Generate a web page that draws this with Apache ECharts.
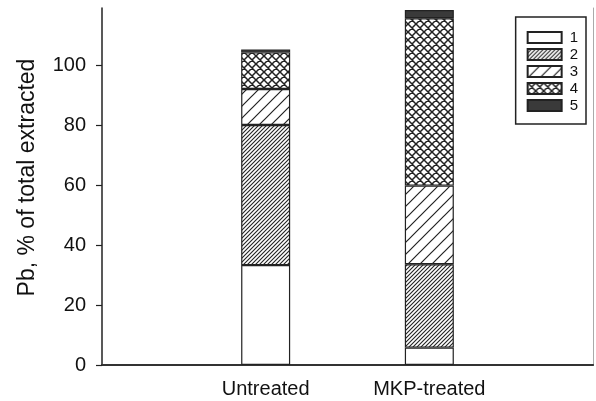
<!DOCTYPE html>
<html>
<head>
<meta charset="utf-8">
<script src="https://cdn.jsdelivr.net/npm/echarts@6/dist/echarts.min.js"></script>
<style>
html,body{margin:0;padding:0;background:#fff;}
#c{width:596px;height:401px;}
</style>
</head>
<body>
<div id="c"></div>
<script>
// ---- data ----
var categories = ['', 'Untreated', 'MKP-treated', ''];
var fractionNames = ['1', '2', '3', '4', '5'];
var fraction1 = [null, 33.3, 5.8, null];
var fraction2 = [null, 46.7, 27.8, null];
var fraction3 = [null, 12.0, 26.2, null];
var fraction4 = [null, 12.2, 55.8, null];
var fraction5 = [null, 1.0, 2.7, null];
var yTicks = [0, 20, 40, 60, 80, 100];
var yTitle = 'Pb, % of total extracted';

// ---- patterns ----
function hatch(size, width, color) {
  var c = document.createElement('canvas');
  c.width = size; c.height = size;
  var g = c.getContext('2d');
  g.fillStyle = '#fff'; g.fillRect(0, 0, size, size);
  g.strokeStyle = color; g.lineWidth = width;
  g.beginPath();
  g.moveTo(-size, 2 * size); g.lineTo(2 * size, -size);
  g.moveTo(-size, size); g.lineTo(size, -size);
  g.moveTo(0, 2 * size); g.lineTo(2 * size, 0);
  g.stroke();
  return c;
}
function cross(size, width, color) {
  var c = document.createElement('canvas');
  c.width = size; c.height = size;
  var g = c.getContext('2d');
  g.fillStyle = '#fff'; g.fillRect(0, 0, size, size);
  g.strokeStyle = color; g.lineWidth = width;
  g.beginPath();
  g.moveTo(-size, 2 * size); g.lineTo(2 * size, -size);
  g.moveTo(-size, size); g.lineTo(size, -size);
  g.moveTo(0, 2 * size); g.lineTo(2 * size, 0);
  g.moveTo(-size, -size); g.lineTo(2 * size, 2 * size);
  g.moveTo(-size, 0); g.lineTo(size, 2 * size);
  g.moveTo(0, -size); g.lineTo(2 * size, size);
  g.stroke();
  return c;
}
var fills = [
  '#ffffff',
  { image: hatch(4, 1.1, '#222'), repeat: 'repeat' },
  { image: hatch(12, 1.2, '#222'), repeat: 'repeat' },
  { image: cross(8, 1.5, '#222'), repeat: 'repeat' },
  '#3a3a3a'
];
var datasets = [fraction1, fraction2, fraction3, fraction4, fraction5];

var FONT = 'Liberation Sans, Arial, sans-serif';
var series = datasets.map(function (d, i) {
  return {
    name: fractionNames[i],
    type: 'bar',
    stack: 'total',
    data: d,
    barWidth: 49,
    itemStyle: { color: fills[i], borderColor: '#222', borderWidth: 1.2 },
    emphasis: { disabled: true }
  };
});

var chart = echarts.init(document.getElementById('c'), null, { renderer: 'canvas' });
chart.setOption({
  animation: false,
  backgroundColor: '#fff',
  grid: { left: 102, right: 1, top: 8, bottom: 36, containLabel: false },
  legend: {
    orient: 'vertical',
    right: 10, top: 17,
    icon: 'rect',
    itemWidth: 34, itemHeight: 11, itemGap: 2,
    padding: [13, 8, 11, 11],
    borderColor: '#222', borderWidth: 1.5,
    textStyle: { fontFamily: FONT, fontSize: 15, color: '#111', padding: [0, 0, 0, 3] },
    data: fractionNames
  },
  xAxis: [{
    type: 'category',
    data: categories,
    boundaryGap: false,
    axisLine: { lineStyle: { color: '#222', width: 1.5 } },
    axisTick: { show: false },
    axisLabel: { margin: 14, fontFamily: FONT, fontSize: 20, color: '#111', interval: 0 }
  }, {
    type: 'category',
    data: categories,
    position: 'top',
    boundaryGap: false,
    axisLine: { lineStyle: { color: '#333', width: 2 } },
    axisTick: { show: false },
    axisLabel: { show: false }
  }],
  yAxis: [{
    type: 'value',
    min: 0, max: 119, interval: 20,
    name: yTitle,
    nameLocation: 'middle',
    nameGap: 63,
    nameTextStyle: { fontFamily: FONT, fontSize: 23, color: '#111', padding: [0, 0, 0, 18] },
    splitLine: { show: false },
    axisLine: { show: true, lineStyle: { color: '#222', width: 1.5 } },
    axisTick: { show: true, length: 6, lineStyle: { color: '#222', width: 1.2 }, customValues: yTicks },
    axisLabel: { margin: 16, fontFamily: FONT, fontSize: 20, color: '#111', customValues: yTicks }
  }, {
    type: 'value',
    position: 'right',
    min: 0, max: 119,
    splitLine: { show: false },
    axisLine: { show: true, lineStyle: { color: '#aaa', width: 1 } },
    axisTick: { show: false },
    axisLabel: { show: false }
  }],
  series: series
});
</script>
</body>
</html>
